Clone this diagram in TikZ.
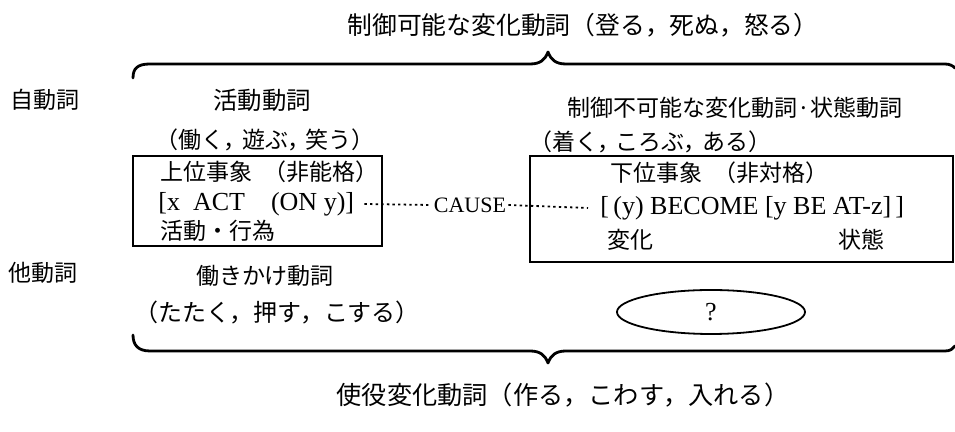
\documentclass[tikz,border=0pt]{standalone}
\usepackage{fontspec}
\setmainfont{Liberation Serif}
\newfontfamily\jp{Noto Sans CJK JP}
\newfontfamily\jph[CharacterWidth=AlternateHalf]{Noto Sans CJK JP}
\newcommand{\cm}{，\hspace{0.3em}}
\usetikzlibrary{shapes.geometric}
\begin{document}
\begin{tikzpicture}[x=0.5pt,y=-0.5pt,
  jt/.style={font=\jp\fontsize{11.5}{13}\selectfont, inner sep=0pt},
  jh/.style={font=\jph\fontsize{11.5}{13}\selectfont, inner sep=0pt},
  lt/.style={font=\fontsize{13}{15}\selectfont, inner sep=0pt},
  st/.style={font=\fontsize{11}{13}\selectfont, inner sep=0pt},
  frame/.style={draw, line width=0.6pt},
  brace/.style={line width=1.4pt, line cap=round, line join=round},
  dots/.style={line width=0.9pt, dash pattern=on 1.2pt off 1.6pt}]
\useasboundingbox (0,0) rectangle (955,432);

% top
\node[jt, font=\jp\fontsize{12.4}{14}\selectfont] (title) at (583,25) {制御可能な変化動詞（登る，死ぬ，怒る）};
\draw[brace] (133,78) .. controls (133,68) and (138,64) .. (150,64) -- (530,64)
  .. controls (540,64) and (545,60) .. (548,52) .. controls (551,60) and (556,64) .. (566,64)
  -- (945,64) .. controls (950,64) and (953,66) .. (955,68);

% row labels
\node[jt, anchor=west] (ji) at (10,100) {自動詞};
\node[jt, anchor=west] (ta) at (8,273) {他動詞};

\node[jt, font=\jp\fontsize{12.2}{14}\selectfont] (katsu) at (262,100) {活動動詞};
\node[jt] (seigyo) at (735,108) {制御不可能な変化動詞·状態動詞};
\node[jh] (hataraku) at (265,140) {（働く\cm 遊ぶ\cm 笑う）};
\node[jh] (tsuku) at (650,142) {（着く\cm ころぶ\cm ある）};

% boxes
\node[frame, minimum width=124.5pt, minimum height=45pt, inner sep=0pt] (lbox) at (257.5,201) {};
\node[frame, minimum width=211.5pt, minimum height=53pt, inner sep=0pt] (rbox) at (741.5,209) {};

\node[jh, anchor=west] (joui) at (160,172) {上位事象\quad（非能格）};
\node[lt, anchor=west] (act) at (158,204) {[x\ \ ACT\quad (ON y)]};
\node[jt, anchor=west] (kodo) at (160,231) {活動・行為};

\node[st] (cause) at (470,205) {CAUSE};

\node[jh, anchor=west] (kai) at (610,173) {下位事象\quad（非対格）};
\node[lt, anchor=west] (become) at (600,208) {[\,(y)\ BECOME\ [y BE AT-z]\,]};
\node[jt, anchor=west] (henka) at (607,240) {変化};
\node[jt, anchor=west] (jotai) at (838,240) {状態};

\draw[dots] ([xshift=5pt]act.east) -- ([xshift=-1pt]cause.west);
\draw[dots] ([xshift=1pt]cause.east) -- ([xshift=-6pt]become.west);

% lower
\node[jt] (kake) at (265,276) {働きかけ動詞};
\node[jt, font=\jp\fontsize{12}{14}\selectfont] (tataku) at (277,313) {（たたく，押す，こする）};
\node[draw, ellipse, minimum width=94pt, minimum height=22pt, line width=0.9pt, inner sep=0pt, font=\fontsize{13}{15}\selectfont] (q) at (711,312) {?};

\draw[brace] (133,335) .. controls (133,345) and (138,351) .. (150,351) -- (530,351)
  .. controls (540,351) and (545,355) .. (548,363) .. controls (551,355) and (556,351) .. (566,351)
  -- (945,351) .. controls (950,351) and (953,349) .. (955,346);
\node[jt, font=\jp\fontsize{12.6}{14}\selectfont] (shieki) at (563,395) {使役変化動詞（作る，こわす，入れる）};
\end{tikzpicture}
\end{document}
